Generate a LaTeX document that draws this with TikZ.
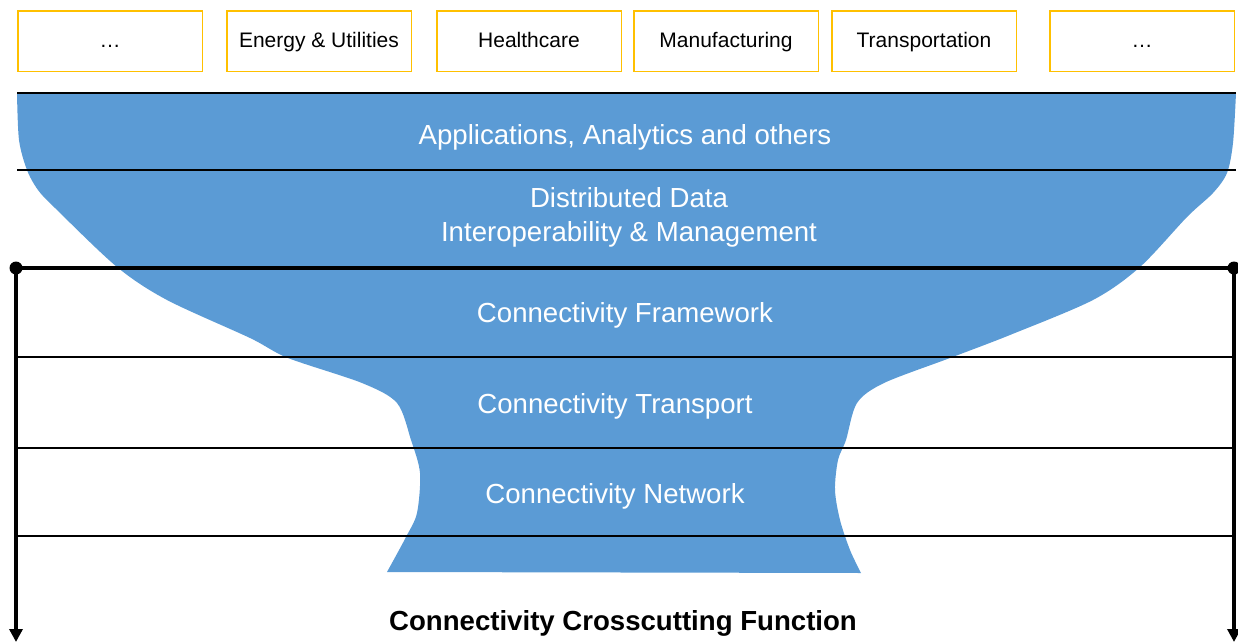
\documentclass[tikz,border=0pt]{standalone}
\usepackage{fontspec}
\setmainfont{Liberation Sans}
\usetikzlibrary{positioning,arrows.meta}
\definecolor{layerblue}{RGB}{91,155,213}
\definecolor{boxgold}{RGB}{255,192,0}

\begin{document}
\begin{tikzpicture}
[x=0.5pt,y=-0.5pt,
sector/.style={draw=boxgold,line width=0.75pt,minimum width=92.25pt,minimum height=30.25pt,inner sep=0pt,text height=9pt,text depth=2.2pt,font=\fontsize{10.5}{12}\selectfont},
layer/.style={text=white,align=center,font=\fontsize{13.8}{17}\selectfont},
sep/.style={line width=0.6pt},
dot/.style={circle,fill,inner sep=0pt,minimum size=6.5pt},
down/.style={line width=2pt,-{Triangle[length=6.5pt,width=6.5pt]}}]
\useasboundingbox (0,0) rectangle (1238,643);
% funnel
\fill[layerblue] plot[smooth] coordinates {(17,93) (19,140) (27,170) (38,190) (55,208) (117,267) (167,300) (250,338) (288,358) (362,383) (397,403) (411,440) (420,473) (417,513) (406,537) (387,572)}
-- plot[smooth] coordinates {(861,573) (850,550) (840,520) (835,490) (838,460) (846,440) (857,403) (884,383) (950,358) (1010,335) (1093,300) (1140,267) (1187,217) (1213,193) (1227,173) (1233,143) (1236,93)} -- cycle;
% sectors
\node[sector] (s1) at (110,41) {…};
\node[sector,right=11.5pt of s1] (s2) {Energy \& Utilities};
\node[sector,right=12pt of s2] (s3) {Healthcare};
\node[sector,right=5.5pt of s3] (s4) {Manufacturing};
\node[sector,right=6pt of s4] (s5) {Transportation};
\node[sector,right=16pt of s5] (s6) {…};
% layers
\foreach \y in {93,170,357,448,536} \draw[sep] (17,\y) -- (1236,\y);
\node[dot] (ldot) at (16,268) {};
\node[dot] (rdot) at (1234,268) {};
\coordinate (lend) at (16,642);
\coordinate (rend) at (1234,642);
\draw[line width=2pt] (ldot.center) -- (rdot.center);
\draw[down] (ldot.center) -- (lend);
\draw[down] (rdot.center) -- (rend);
\node[layer] (apps) at (625,137) {Applications, Analytics and others};
\node[layer] (data) at (629,217) {Distributed Data\\Interoperability \& Management};
\node[layer] (frame) at (625,315) {Connectivity Framework};
\node[layer] (trans) at (615,406) {Connectivity Transport};
\node[layer] (net) at (615,496) {Connectivity Network};
\node[font=\bfseries\fontsize{13.8}{17}\selectfont] (cross) at (623,623) {Connectivity Crosscutting Function};
\end{tikzpicture}
\end{document}
